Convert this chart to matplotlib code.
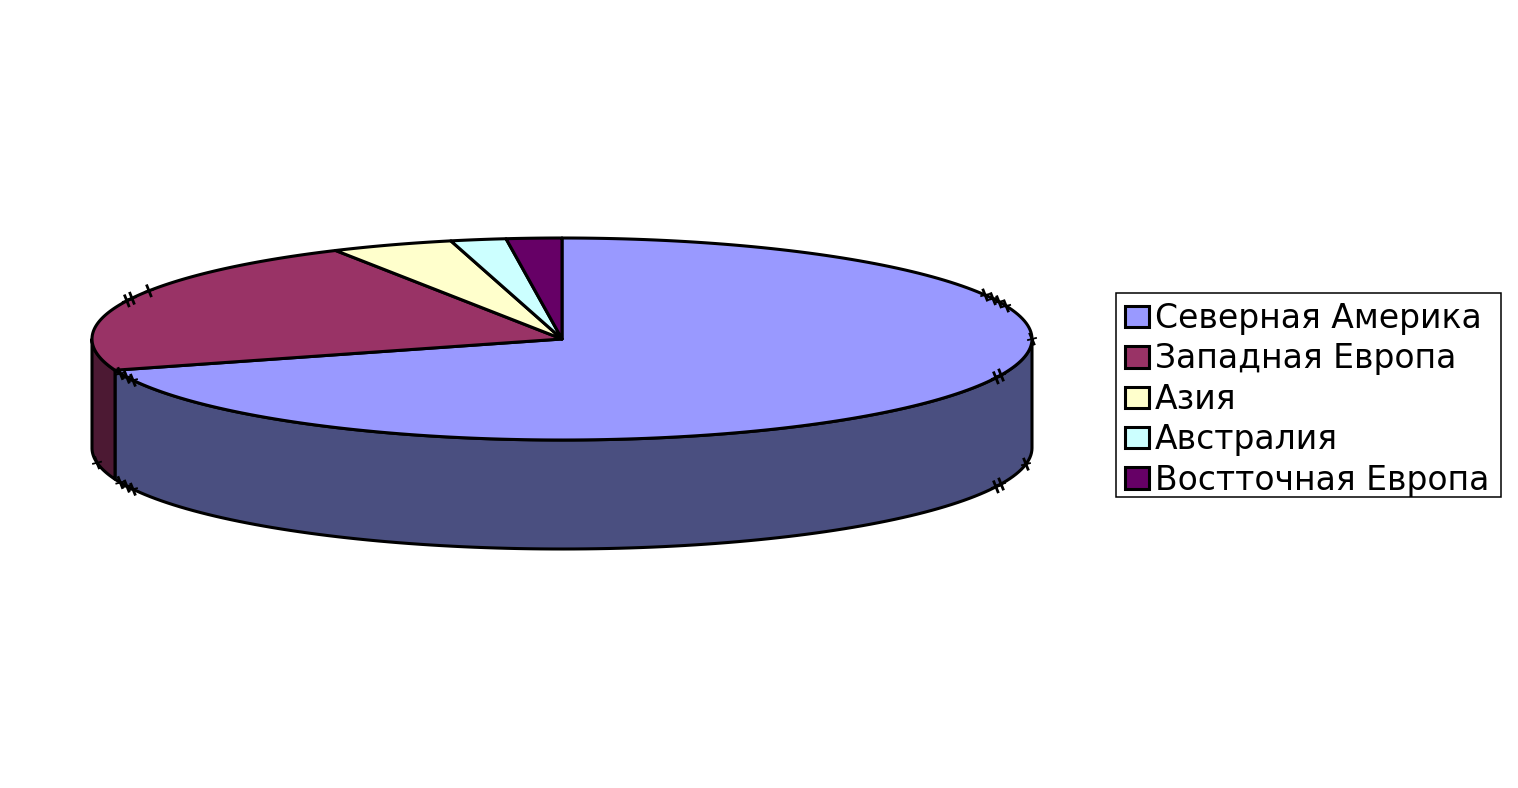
import numpy as np
import matplotlib
matplotlib.use("Agg")
import matplotlib.pyplot as plt
from matplotlib.patches import Patch, Rectangle

labels = ["Северная Америка", "Западная Европа", "Азия", "Австралия", "Востточная Европа"]
values = [70, 22, 4.2, 1.9, 1.9]
top_colors = ["#9999FF", "#993366", "#FFFFCC", "#CCFFFF", "#660066"]
side_colors = ["#4A4F80", "#4C1933"]

# little tick marks the original renderer left on the rim (degrees clockwise from top)
top_marks = [64.2, 66.5, 68.4, 70.9, 90, 110.9, 112.6, 245.9, 247.8, 250, 292.2, 293.8, 298.5]
bottom_marks = [99.2, 110.9, 112.6, 245.9, 247.8, 250, 261.6]

cx, cy = 562, 339
rx, ry = 470, 101
depth = 109


def rim(deg, drop=0):
    a = np.radians(deg)
    return cx + rx * np.sin(a), cy - ry * np.cos(a) + drop


def side(start, end, color):
    deg = np.linspace(start, end, 120)
    x, y = rim(deg)
    x2, y2 = rim(deg[::-1], depth)
    ax.fill(np.r_[x, x2], np.r_[y, y2], facecolor=color, edgecolor="black", lw=2.2, joinstyle="round")


def mark(deg, drop=0):
    x, y = rim(deg, drop)
    ax.plot([x - 4, x + 4], [y + 1, y - 1], color="black", lw=1.3)
    ax.plot([x - 2, x + 2], [y - 5, y + 5], color="black", lw=2)


fig = plt.figure(figsize=(15.18, 7.88), dpi=100)
ax = fig.add_axes([0, 0, 1, 1])
ax.set_xlim(0, 1518)
ax.set_ylim(788, 0)
ax.axis("off")

bounds = np.r_[0, np.cumsum(values)] / np.sum(values) * 360

# wall first, then the top of the pie over it
side(90, bounds[1], side_colors[0])
side(bounds[1], 270, side_colors[1])

for i, color in enumerate(top_colors):
    deg = np.linspace(bounds[i], bounds[i + 1], 200)
    x, y = rim(deg)
    ax.fill(np.r_[cx, x], np.r_[cy, y], facecolor=color, edgecolor="black", lw=2.2, joinstyle="round")

for d in top_marks:
    mark(d)
for d in bottom_marks:
    mark(d, depth)

# legend box drawn by hand, the built in frame pads too much at the bottom
ax.add_patch(Rectangle((1116, 293), 385, 204, facecolor="white", edgecolor="black", lw=1.1))
handles = [Patch(facecolor=c, edgecolor="black", linewidth=2.2) for c in top_colors]
ax.legend(
    handles, labels,
    loc="upper left",
    bbox_to_anchor=(1125, 302),
    bbox_transform=ax.transData,
    borderaxespad=0,
    borderpad=0,
    fontsize=23.8,
    frameon=False,
    handlelength=0.73,
    handleheight=0.62,
    handletextpad=0.17,
    labelspacing=0.225,
)

fig.savefig("out.png", dpi=100)
plt.close()
